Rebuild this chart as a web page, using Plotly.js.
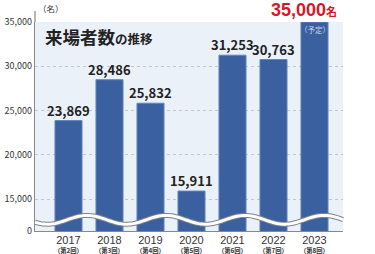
<!DOCTYPE html>
<html>
<head>
<meta charset="utf-8">
<script src="https://cdn.plot.ly/plotly-3.0.1.min.js"></script>
<style>html,body{margin:0;padding:0;background:#fff;}#chart{width:375px;height:254px;}</style>
</head>
<body>
<div id="chart"></div>
<script>
const years = ['2017','2018','2019','2020','2021','2022','2023'];
const editions = ['（第2回）','（第3回）','（第4回）','（第5回）','（第6回）','（第7回）','（第8回）'];
const visitors = [23869, 28486, 25832, 15911, 31253, 30763, 35000];
const valueLabels = ['23,869','28,486','25,832','15,911','31,253','30,763','35,000'];
const yTickVals = [11400, 15000, 20000, 25000, 30000, 35000];
const yTickText = ['0','15,000','20,000','25,000','30,000','35,000'];

const FONT = '"Noto Sans CJK JP", "Noto Sans", sans-serif';
const LATIN = '"Liberation Sans", Arial, sans-serif';
const idx = years.map((_, i) => i);

const annotations = [];
visitors.forEach((v, i) => {
  if (i < visitors.length - 1) {
    annotations.push({x: i, y: v, xref: 'x', yref: 'y', text: '<b>' + valueLabels[i] + '</b>',
      showarrow: false, yanchor: 'bottom', yshift: -1, font: {family: FONT, size: 13, color: '#222'}});
  } else {
    annotations.push({x: i, y: v, xref: 'x', yref: 'y',
      text: '<b>' + valueLabels[i] + '<span style="font-size:11px;font-family:\'Noto Sans CJK JP\'">名</span></b>',
      showarrow: false, yanchor: 'bottom', yshift: 1, xshift: -11, borderpad: 0,
      font: {family: LATIN, size: 18, color: '#d7182a'}});
    annotations.push({x: i, y: v, xref: 'x', yref: 'y', text: '（予定）',
      showarrow: false, yanchor: 'top', yshift: 0, font: {family: FONT, size: 7.5, color: '#c9d6ec'}});
  }
  annotations.push({x: i, y: 0, xref: 'x', yref: 'paper',
    text: '<span style="font-size:11px;font-family:\'Liberation Sans\'">' + years[i] + '</span><br><b><span style="font-size:6.3px">' + editions[i] + '</span></b>',
    showarrow: false, yanchor: 'top', yshift: -1.5, borderpad: 0,
    font: {family: FONT, size: 7, color: '#333'}});
});
annotations.push({x: 0.027, y: 0.93, xref: 'paper', yref: 'paper', xanchor: 'left', yanchor: 'middle',
  text: '<b>来場者数<span style="font-size:12.5px">の推移</span></b>', showarrow: false,
  font: {family: FONT, size: 17.5, color: '#222'}});
annotations.push({x: 0, y: 1, xref: 'paper', yref: 'paper', xanchor: 'left', yanchor: 'bottom', yshift: 6, xshift: 1,
  text: '（名）', showarrow: false, font: {family: FONT, size: 8.5, color: '#333'}});

// decorative break wave
const L = 35, W = 308, B = 231, H = 209;
let path = '';
for (let px = 0; px <= W; px += 2) {
  const X = L + px;
  const Y = 219.8 - 4.4 * Math.cos(2 * Math.PI * (X - 245) / 79);
  path += (px === 0 ? 'M' : 'L') + (px / W).toFixed(4) + ',' + ((B - Y) / H).toFixed(4);
}
const shapes = [
  {type: 'path', xref: 'paper', yref: 'paper', path: path, line: {color: '#7d838b', width: 5}, layer: 'above'},
  {type: 'path', xref: 'paper', yref: 'paper', path: path, line: {color: '#ffffff', width: 3}, layer: 'above'},
  {type: 'line', xref: 'paper', yref: 'paper', x0: 0, x1: 0, y0: 1, y1: 1 + 11 / H, line: {color: '#888', width: 1.2}}
];

Plotly.newPlot('chart', [{
  type: 'bar', x: idx, y: visitors, width: 0.66,
  marker: {color: '#3a60a0', line: {color: '#6585bd', width: 1}},
  hoverinfo: 'none'
}], {
  width: 375, height: 254,
  margin: {l: 35, r: 32, t: 22, b: 23, pad: 0},
  paper_bgcolor: '#ffffff', plot_bgcolor: '#ebf1f9',
  showlegend: false,
  font: {family: FONT},
  xaxis: {type: 'linear', range: [-0.817, 6.695], showticklabels: false,
    showgrid: false, showline: true, linecolor: '#888', linewidth: 1.2,
    ticks: '', zeroline: false, fixedrange: true},
  yaxis: {range: [11400, 35000], tickmode: 'array', tickvals: yTickVals, ticktext: yTickText,
    showgrid: true, gridcolor: '#c2c6cc', griddash: 'dot', gridwidth: 1,
    showline: true, linecolor: '#888', linewidth: 1.2, ticks: '', zeroline: false,
    tickfont: {family: FONT, size: 9, color: '#333'}, fixedrange: true},
  annotations: annotations,
  shapes: shapes
}, {staticPlot: true});
</script>
</body>
</html>
